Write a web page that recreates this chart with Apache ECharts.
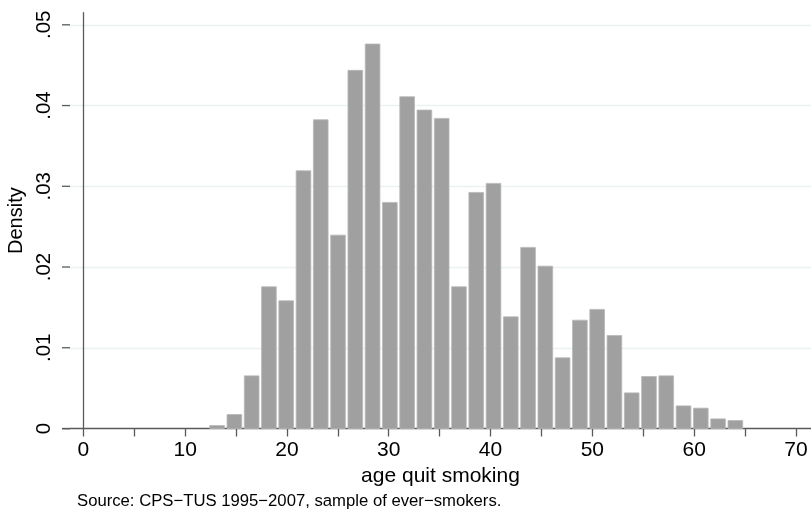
<!DOCTYPE html>
<html>
<head>
<meta charset="utf-8">
<script src="https://cdn.jsdelivr.net/npm/echarts@6/dist/echarts.min.js"></script>
<style>
  html, body { margin: 0; padding: 0; background: #ffffff; }
  #chart { width: 811px; height: 513px; }
</style>
</head>
<body>
<div id="chart"></div>
<script>
// Histogram: equal-width bins
const binStart = 12.39;
const binWidth = 1.697;
const density = [
  0.00037, 0.00173, 0.00652, 0.01755, 0.01581, 0.03192, 0.03824, 0.02395,
  0.04436, 0.04762, 0.02800, 0.04109, 0.03944, 0.03841, 0.01755, 0.02924,
  0.03036, 0.01383, 0.02243, 0.02011, 0.00875, 0.01342, 0.01475, 0.01152,
  0.00441, 0.00644, 0.00652, 0.00280, 0.00252, 0.00119, 0.00099
];
const xTicks = [0, 5, 10, 15, 20, 25, 30, 35, 40, 45, 50, 55, 60, 65, 70];
const xLabels = [0, 10, 20, 30, 40, 50, 60, 70];
const yTicks = [0, 0.01, 0.02, 0.03, 0.04, 0.05];
const yTickText = ['0', '.01', '.02', '.03', '.04', '.05'];
const xTitle = 'age quit smoking';
const yTitle = 'Density';
const note = 'Source: CPS\u2212TUS 1995\u22122007, sample of ever\u2212smokers.';

const bins = density.map((d, i) => [binStart + i * binWidth, binStart + (i + 1) * binWidth, d]);

const FONT = "'Liberation Sans', Arial, Helvetica, sans-serif";
const chart = echarts.init(document.getElementById('chart'), null, { renderer: 'canvas' });

chart.setOption({
  animation: false,
  backgroundColor: '#ffffff',
  textStyle: { fontFamily: FONT },
  grid: { left: 70, right: 0, top: 12.7, bottom: 84.5, containLabel: false, outerBoundsMode: 'none' },
  title: {
    text: note, left: 72, top: 488,
    textStyle: { fontFamily: FONT, fontSize: 16.7, fontWeight: 'normal', color: '#000' }
  },
  xAxis: {
    type: 'value', min: -1.31, max: 71.48,
    name: xTitle, nameLocation: 'middle', nameGap: 30,
    nameTextStyle: { fontFamily: FONT, fontSize: 21, color: '#000' },
    axisLine: { show: true, onZero: false, lineStyle: { color: '#5a5a5a', width: 1.3 } },
    axisTick: { show: true, length: 8, customValues: xTicks, lineStyle: { color: '#5a5a5a', width: 1.3 } },
    axisLabel: { customValues: xLabels, margin: 11, fontFamily: FONT, fontSize: 21, color: '#000' },
    splitLine: { show: false }
  },
  yAxis: {
    type: 'value', min: 0, max: 0.0515, interval: 0.01,
    name: yTitle, nameLocation: 'middle', nameGap: 42, nameRotate: 90,
    nameTextStyle: { fontFamily: FONT, fontSize: 20, color: '#000' },
    axisLine: { show: true, lineStyle: { color: '#5a5a5a', width: 1.3 } },
    axisTick: { show: false },
    axisLabel: {
      customValues: yTicks, rotate: 90, margin: 15, align: 'center', verticalAlign: 'bottom',
      fontFamily: FONT, fontSize: 20.5, color: '#000',
      formatter: v => {
        const i = yTicks.findIndex(t => Math.abs(t - v) < 1e-9);
        return i >= 0 ? yTickText[i] : '';
      }
    },
    splitLine: { show: true, showMinLine: false, showMaxLine: false, lineStyle: { color: '#eaf2f3', width: 1.3 } }
  },
  graphic: [{
    type: 'line', shape: { x1: 62, y1: 428.8, x2: 70, y2: 428.8 },
    style: { stroke: '#5a5a5a', lineWidth: 1.3 }, z: 10
  }],
  series: [{
    type: 'custom',
    data: bins,
    renderItem: (params, api) => {
      const p0 = api.coord([api.value(0), api.value(2)]);
      const p1 = api.coord([api.value(1), 0]);
      return {
        type: 'rect',
        shape: { x: p0[0] + 0.3, y: p0[1], width: p1[0] - p0[0] - 2.6, height: p1[1] - p0[1] },
        style: { fill: '#a0a0a0', stroke: '#b8b8b8', lineWidth: 0.8 }
      };
    },
    encode: { x: [0, 1], y: 2 }
  }, {
    // y-axis tick marks, placed through the y scale
    type: 'custom',
    data: yTicks.map(v => [v]),
    silent: true,
    clip: false,
    renderItem: (params, api) => {
      const p = api.coord([0, api.value(0)]);
      const left = params.coordSys.x;
      return {
        type: 'line',
        shape: { x1: left - 8, y1: p[1], x2: left, y2: p[1] },
        style: { stroke: '#5a5a5a', lineWidth: 1.3 },
        z2: 10
      };
    },
    encode: { y: 0 }
  }]
});
</script>
</body>
</html>
